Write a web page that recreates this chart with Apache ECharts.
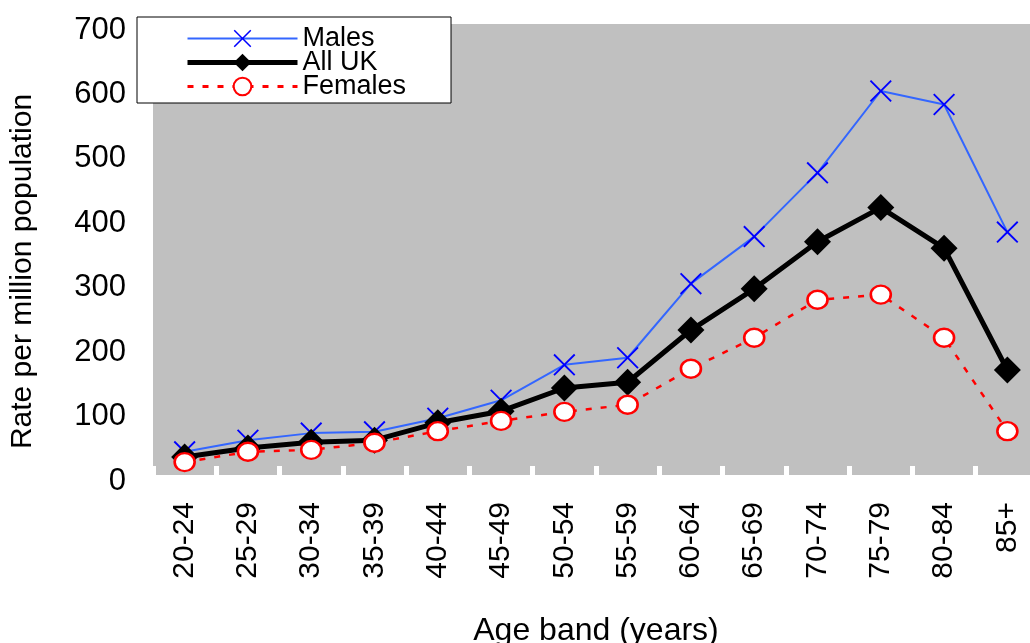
<!DOCTYPE html>
<html>
<head>
<meta charset="utf-8">
<script src="https://cdn.jsdelivr.net/npm/echarts@6/dist/echarts.min.js"></script>
<style>
html,body{margin:0;padding:0;background:#fff;}
#chart{width:1030px;height:643px;}
</style>
</head>
<body>
<div id="chart"></div>
<script>
const categories = ['20-24','25-29','30-34','35-39','40-44','45-49','50-54','55-59','60-64','65-69','70-74','75-79','80-84','85+'];
const males   = [36, 54, 65, 67, 88, 116, 171, 182, 297, 370, 469, 596, 575, 377];
const allUK   = [28, 42, 51, 54, 81, 99, 135, 144, 225, 289, 362, 415, 352, 163];
const females = [20, 36, 39, 50, 68, 84, 98, 109, 165, 213, 272, 280, 213, 68];
const yTicks = { min: 0, max: 700, interval: 100 };

const FONT = "'Liberation Sans', Arial, sans-serif";
const X_PATH = 'path://M0,1.2L1.2,0L10,8.8L18.8,0L20,1.2L11.2,10L20,18.8L18.8,20L10,11.2L1.2,20L0,18.8L8.8,10Z';

const chart = echarts.init(document.getElementById('chart'));
chart.setOption({
  animation: false,
  textStyle: { fontFamily: FONT },
  grid: {
    left: 153, top: 24, width: 886, height: 451,
    show: true, backgroundColor: '#c0c0c0', borderWidth: 0,
    containLabel: false,
    outerBoundsMode: 'none'
  },
  legend: {
    left: 137, top: 17,
    orient: 'vertical',
    selectedMode: false,
    backgroundColor: '#ffffff',
    borderColor: '#000000',
    borderWidth: 1,
    padding: [8, 45, 3, 48],
    itemGap: -3,
    itemWidth: 110,
    itemHeight: 22,
    textStyle: { fontFamily: FONT, fontSize: 27, color: '#000', lineHeight: 24 },
    data: [
      { name: 'Males', lineStyle: { width: 2 } },
      { name: 'All UK', lineStyle: { width: 5 } },
      { name: 'Females', lineStyle: { width: 3 } }
    ]
  },
  xAxis: {
    type: 'category',
    data: categories,
    boundaryGap: true,
    axisLine: { show: false },
    axisTick: { show: true, inside: true, length: 9, lineStyle: { color: '#ffffff', width: 5 } },
    axisLabel: { rotate: 90, margin: 27, fontSize: 30, color: '#000', fontFamily: FONT, interval: 0 },
    name: 'Age band (years)',
    nameLocation: 'middle',
    nameGap: 140,
    nameTextStyle: { fontSize: 32, color: '#000', fontFamily: FONT }
  },
  yAxis: {
    type: 'value',
    min: yTicks.min, max: yTicks.max, interval: yTicks.interval,
    axisLine: { show: false },
    axisTick: { show: false },
    splitLine: { show: false },
    axisLabel: {
      fontSize: 31, color: '#000', margin: 27, fontFamily: FONT,
      formatter: '{v|{value}}',
      rich: { v: { fontSize: 31, fontFamily: FONT, color: '#000', padding: [12, 0, 0, 0] } }
    },
    name: 'Rate per million population',
    nameLocation: 'middle',
    nameGap: 115,
    nameTextStyle: { fontSize: 30, color: '#000', fontFamily: FONT, padding: [0, 44, 0, 0] }
  },
  series: [
    {
      name: 'Males', type: 'line', data: males,
      symbol: X_PATH, symbolSize: 22,
      itemStyle: { color: '#0000ff' },
      lineStyle: { color: '#3366ff', width: 2 },
      z: 2
    },
    {
      name: 'All UK', type: 'line', data: allUK,
      symbol: 'diamond', symbolSize: [27, 27],
      itemStyle: { color: '#000000' },
      lineStyle: { color: '#000000', width: 5 },
      z: 3
    },
    {
      name: 'Females', type: 'line', data: females,
      symbol: 'circle', symbolSize: [20, 18],
      itemStyle: { color: '#ffffff', borderColor: '#ff0000', borderWidth: 2.5 },
      lineStyle: { color: '#ff0000', width: 2.5, type: [6, 9] },
      z: 4
    }
  ]
});
</script>
</body>
</html>
